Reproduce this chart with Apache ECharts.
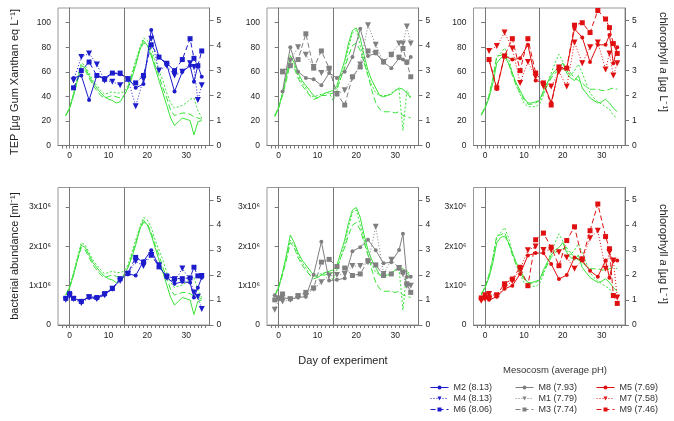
<!DOCTYPE html>
<html>
<head>
    <meta charset="utf-8">
    <title>Mesocosm TEP, bacteria and chlorophyll</title>
    <script src="https://cdn.jsdelivr.net/npm/echarts@6/dist/echarts.min.js"></script>
</head>
<body style="margin:0">
    <div id="main" style="width:674px; height:421px;"></div>

    <script type="text/javascript">

        // sampling days
        var tepDays = [1, 3, 5, 7, 9, 11, 13, 15, 17, 19, 21, 23, 25, 27, 29, 31, 32, 33, 34];
        var bacDays = [-1, 0, 1, 3, 5, 7, 9, 11, 13, 15, 17, 19, 21, 23, 25, 27, 29, 31, 32, 33, 34];
        var chlDays = [-1, 0, 1, 2, 3, 4, 5, 6, 7, 8, 9, 10, 11, 12, 13, 14, 15, 16, 17,
                       18, 19, 20, 21, 22, 23, 24, 25, 26, 27, 28, 29, 30, 31, 32, 33, 34];

        // TEP [ug Gum Xanthan eq L-1]
        var tepM2 = [55, 57, 37, 57, 55, 59, 58, 55, 47, 50, 94, 72, 66, 44, 60, 65, 52, 65, 56];
        var tepM4 = [53, 72, 75, 66, 53, 52, 49, 54, 32, 54, 87, 61, 65, 57, 60, 67, 64, 37, 49];
        var tepM6 = [47, 61, 68, 57, 54, 59, 59, 54, 51, 57, 82, 72, 67, 61, 70, 87, 71, 65, 77];
        var tepM8 = [44, 80, 60, 55, 54, 49, 59, 55, 60, 72, 95, 73, 75, 68, 63, 71, 70, 67, 72];
        var tepM1 = [60, 69, 80, 74, 64, 59, 62, 42, 45, 55, 66, 98, 82, 68, 74, 83, 83, 97, 83];
        var tepM3 = [60, 65, 70, 91, 63, 77, 63, 42, 33, 56, 64, 77, 76, 68, 74, 72, 79, 68, 56];
        var tepM5 = [70, 46, 73, 70, 71, 82, 53, 51, 35, 62, 63, 95, 88, 68, 82, 82, 90, 67, 80];
        var tepM7 = [77, 81, 92, 79, 51, 68, 56, 48, 48, 60, 48, 84, 67, 80, 84, 62, 75, 57, 67];
        var tepM9 = [70, 47, 73, 87, 61, 87, 59, 51, 33, 64, 63, 98, 100, 92, 110, 103, 96, 83, 75];

        // bacterial abundance [x10^6 ml-1]
        var bacM2 = [0.66, 0.79, 0.68, 0.62, 0.70, 0.68, 0.77, 0.93, 1.15, 1.30, 1.26, 1.62, 1.90, 1.50, 1.21, 1.05, 1.10, 1.08, 0.70, 0.95, 1.20];
        var bacM4 = [0.64, 0.74, 0.66, 0.56, 0.70, 0.66, 0.76, 0.92, 1.12, 1.30, 1.62, 1.50, 1.78, 1.52, 1.20, 1.10, 1.44, 1.15, 0.83, 0.72, 0.41];
        var bacM6 = [0.68, 0.80, 0.68, 0.60, 0.72, 0.70, 0.80, 0.93, 1.18, 1.32, 1.72, 1.60, 1.78, 1.48, 1.25, 1.18, 1.18, 1.20, 1.47, 1.25, 1.26];
        var bacM8 = [0.76, 0.70, 0.70, 0.66, 0.70, 0.72, 1.28, 2.12, 1.13, 1.15, 1.19, 1.88, 1.98, 2.17, 1.90, 1.57, 1.60, 1.91, 2.32, 1.22, 1.23];
        var bacM1 = [0.39, 0.64, 0.60, 0.64, 0.72, 0.74, 0.92, 1.09, 1.26, 1.27, 1.30, 1.50, 1.50, 1.60, 2.50, 1.30, 1.66, 1.45, 1.30, 1.00, 1.00];
        var bacM3 = [0.64, 0.69, 0.79, 0.67, 0.75, 0.83, 0.94, 1.60, 1.67, 1.49, 1.45, 1.26, 1.30, 1.64, 1.53, 1.26, 1.30, 1.45, 1.35, 1.05, 0.83];
        var bacM5 = [0.66, 0.70, 0.64, 0.72, 0.92, 1.00, 1.30, 1.77, 1.83, 1.83, 1.55, 1.17, 1.27, 1.72, 1.64, 1.38, 1.23, 1.64, 1.20, 1.64, 1.64];
        var bacM7 = [0.62, 0.66, 0.79, 0.74, 0.95, 1.12, 1.42, 1.90, 2.00, 1.91, 1.90, 1.85, 1.72, 1.43, 1.66, 2.21, 2.40, 1.43, 1.85, 1.64, 0.70];
        var bacM9 = [0.69, 0.77, 0.70, 0.77, 1.05, 1.17, 1.47, 1.00, 2.17, 2.34, 1.98, 1.51, 2.15, 2.50, 1.68, 2.40, 3.08, 2.25, 1.94, 0.75, 0.55];

        // chlorophyll a [ug L-1]
        var chlM2 = [1.2, 1.5, 2.0, 2.6, 3.2, 3.1, 2.8, 2.5, 2.3, 2.1, 1.95, 1.85, 1.8, 1.7, 1.75, 2.0, 2.3, 2.7, 3.2, 3.8, 4.2, 4.0, 3.6, 3.1, 2.6, 2.1, 1.6, 1.1, 0.8, 0.95, 1.1, 1.05, 1.0, 0.42, 0.95, 1.0];
        var chlM4 = [1.2, 1.55, 2.1, 2.7, 3.3, 3.2, 2.9, 2.6, 2.4, 2.2, 2.05, 2.1, 2.15, 2.1, 2.1, 2.15, 2.4, 2.9, 3.4, 3.9, 4.3, 4.2, 3.9, 3.4, 3.0, 2.6, 2.1, 1.7, 1.5, 1.55, 1.6, 1.7, 1.85, 1.9, 1.4, 1.1];
        var chlM6 = [1.2, 1.5, 2.0, 2.6, 3.1, 3.0, 2.7, 2.4, 2.2, 2.0, 1.9, 1.95, 2.0, 1.95, 1.9, 2.0, 2.3, 2.8, 3.3, 3.8, 4.1, 4.05, 3.7, 3.2, 2.8, 2.3, 1.9, 1.4, 1.2, 1.25, 1.3, 1.3, 1.25, 1.15, 1.1, 1.05];
        var chlM8 = [1.2, 1.5, 2.1, 2.8, 3.6, 3.3, 2.9, 2.6, 2.4, 2.2, 2.0, 1.9, 2.0, 2.1, 2.15, 2.2, 2.4, 2.9, 3.4, 4.1, 4.6, 4.7, 4.3, 3.6, 3.0, 2.6, 2.3, 2.0, 1.95, 2.0, 2.05, 2.2, 2.3, 2.25, 2.1, 1.9];
        var chlM1 = [1.2, 1.55, 2.1, 2.7, 3.4, 3.2, 2.8, 2.5, 2.3, 2.0, 1.95, 2.0, 2.05, 2.1, 2.1, 1.8, 2.2, 2.7, 3.2, 3.9, 4.5, 4.6, 4.0, 3.4, 2.8, 2.4, 2.1, 2.0, 2.0, 2.0, 2.1, 2.2, 2.25, 0.6, 2.2, 1.95];
        var chlM3 = [1.15, 1.5, 2.0, 2.6, 3.3, 3.1, 2.7, 2.4, 2.2, 2.0, 1.85, 1.9, 2.0, 2.0, 2.05, 2.1, 2.3, 2.7, 3.1, 3.6, 4.0, 4.1, 3.8, 3.3, 2.8, 2.2, 1.7, 1.45, 1.35, 1.35, 1.35, 1.3, 1.35, 1.2, 1.15, 1.1];
        var chlM5 = [1.25, 1.5, 1.9, 2.5, 3.3, 3.5, 3.55, 3.3, 2.9, 2.5, 2.2, 1.9, 1.7, 1.7, 1.75, 1.8, 2.2, 2.5, 2.8, 3.0, 3.1, 3.3, 2.9, 2.7, 2.6, 2.8, 2.3, 2.1, 1.9, 1.8, 1.7, 1.75, 1.85, 1.7, 1.5, 1.35];
        var chlM7 = [1.25, 1.55, 2.0, 2.7, 3.5, 3.7, 3.9, 3.5, 2.9, 2.4, 2.05, 1.7, 1.55, 1.55, 1.55, 1.65, 2.0, 2.5, 2.9, 3.3, 3.65, 3.35, 3.0, 2.8, 3.0, 3.25, 2.9, 2.5, 2.1, 1.9, 1.75, 1.65, 1.55, 1.45, 1.2, 1.1];
        var chlM9 = [1.2, 1.5, 2.0, 2.7, 3.6, 3.6, 3.7, 3.3, 2.8, 2.4, 2.1, 1.85, 1.65, 1.65, 1.7, 1.8, 2.1, 2.4, 2.7, 2.9, 3.0, 3.05, 3.1, 2.9, 2.7, 2.6, 2.5, 2.35, 2.25, 2.25, 2.25, 2.2, 2.2, 2.25, 2.3, 2.25];

        var columns = [
            {color: '#1c1ccc', names: ['M2 (8.13)', 'M4 (8.13)', 'M6 (8.06)'],
             tep: [tepM2, tepM4, tepM6], bac: [bacM2, bacM4, bacM6], chl: [chlM2, chlM4, chlM6]},
            {color: '#808080', names: ['M8 (7.93)', 'M1 (7.79)', 'M3 (7.74)'],
             tep: [tepM8, tepM1, tepM3], bac: [bacM8, bacM1, bacM3], chl: [chlM8, chlM1, chlM3]},
            {color: '#e01010', names: ['M5 (7.69)', 'M7 (7.58)', 'M9 (7.46)'],
             tep: [tepM5, tepM7, tepM9], bac: [bacM5, bacM7, bacM9], chl: [chlM5, chlM7, chlM9]}
        ];

        var font = 'Liberation Sans, Arial, sans-serif';
        var green = '#3ae23a';
        var lineTypes = ['solid', [1, 2], [5, 3]];
        var chlTypes = ['solid', [2, 2], [6, 3]];
        var symbols = ['circle', 'triangle', 'rect'];
        var symbolSizes = [4, 6, 5];
        var symbolRot = [0, 180, 0];

        var gridLeft = [58, 267, 473.5];
        var gridTop = [8, 187.5];

        var dayTicks = [];
        for (var t = -2; t <= 35; t++) dayTicks.push(t);

        function pairs(days, vals) {
            return days.map(function(d, i) { return [d, vals[i]]; });
        }

        function bacLabel(v) {
            return v === 0 ? '0' : v + 'x10\u2076';
        }

        var grid = [], xAxis = [], yAxis = [], series = [];

        [0, 1].forEach(function(row) {
            columns.forEach(function(col, c) {
                var g = grid.length;
                grid.push({left: gridLeft[c], top: gridTop[row], width: 151.5, height: 137.5,
                           show: true, borderColor: '#999', borderWidth: 1, backgroundColor: 'transparent'});
                xAxis.push({
                    type: 'value', gridIndex: g, min: -3, max: 36,
                    axisLine: {lineStyle: {color: '#777'}},
                    axisTick: {customValues: dayTicks, length: 3, lineStyle: {color: '#777'}},
                    axisLabel: {customValues: [0, 10, 20, 30], fontSize: 8.5, margin: 6,
                                color: '#222', fontFamily: font},
                    splitLine: {show: false}
                });
                // left axis: TEP or bacteria
                yAxis.push({
                    type: 'value', gridIndex: g, position: 'left', min: 0,
                    max: row === 0 ? 112 : 3.5,
                    axisLine: {show: true, lineStyle: {color: '#777'}},
                    axisTick: {customValues: row === 0 ? [0, 20, 40, 60, 80, 100] : [0, 1, 2, 3],
                               length: 4, lineStyle: {color: '#777'}},
                    axisLabel: {customValues: row === 0 ? [0, 20, 40, 60, 80, 100] : [0, 1, 2, 3],
                                formatter: row === 0 ? '{value}' : bacLabel,
                                fontSize: 8.5, margin: 7, color: '#222', fontFamily: font},
                    splitLine: {show: false}
                });
                // right axis: chlorophyll
                yAxis.push({
                    type: 'value', gridIndex: g, position: 'right', min: 0, max: 5.5,
                    axisLine: {show: true, lineStyle: {color: '#777'}},
                    axisTick: {customValues: [0, 1, 2, 3, 4, 5], length: 4, lineStyle: {color: '#777'}},
                    axisLabel: {customValues: [0, 1, 2, 3, 4, 5], fontSize: 8.5, margin: 7,
                                color: '#222', fontFamily: font},
                    splitLine: {show: false}
                });

                // chlorophyll lines in green
                col.chl.forEach(function(vals, k) {
                    var s = {
                        name: 'chl ' + col.names[k], type: 'line', xAxisIndex: g, yAxisIndex: 2 * g + 1,
                        data: pairs(chlDays, vals), showSymbol: false, symbol: 'none', z: 2,
                        lineStyle: {color: green, width: 1, type: chlTypes[k]}
                    };
                    if (k === 0) {
                        s.markLine = {silent: true, symbol: 'none', label: {show: false},
                                      lineStyle: {color: '#777', width: 1, type: 'solid'},
                                      data: [{xAxis: 14}]};
                    }
                    series.push(s);
                });

                // TEP / bacteria series
                var sets = row === 0 ? col.tep : col.bac;
                var days = row === 0 ? tepDays : bacDays;
                sets.forEach(function(vals, k) {
                    series.push({
                        name: col.names[k], type: 'line', xAxisIndex: g, yAxisIndex: 2 * g,
                        data: pairs(days, vals), z: 3,
                        symbol: symbols[k], symbolSize: symbolSizes[k], symbolRotate: symbolRot[k],
                        itemStyle: {color: col.color},
                        lineStyle: {color: col.color, width: 1, type: lineTypes[k]}
                    });
                });
            });
        });

        var legendLeft = [430, 515, 596];
        var legend = columns.map(function(col, c) {
            return {
                data: col.names, orient: 'vertical', left: legendLeft[c], top: 383,
                padding: 0, itemWidth: 18, itemHeight: 5, itemGap: 2, selectedMode: false,
                lineStyle: {width: 1},
                textStyle: {fontSize: 9, lineHeight: 9, color: '#333', fontFamily: font}
            };
        });

        var titleStyle = {fontSize: 11, fill: '#222', fontFamily: font,
                          textAlign: 'center', textVerticalAlign: 'middle'};
        var chlRich = {
            n: {fontSize: 11, fontFamily: font, color: '#222'},
            i: {fontSize: 11, fontFamily: font, color: '#222', fontStyle: 'italic'}
        };

        var myChart = echarts.init(document.getElementById('main'), null, {renderer: 'canvas'});
        myChart.setOption({
            animation: false,
            backgroundColor: '#fff',
            grid: grid,
            xAxis: xAxis,
            yAxis: yAxis,
            legend: legend,
            series: series,
            graphic: [
                {type: 'text', x: 15, y: 82, rotation: Math.PI / 2,
                 style: Object.assign({text: 'TEP [\u00b5g Gum Xanthan eq L\u207b\u00b9]'}, titleStyle)},
                {type: 'text', x: 15, y: 256, rotation: Math.PI / 2,
                 style: Object.assign({text: 'bacterial abundance [ml\u207b\u00b9]'}, titleStyle)},
                {type: 'text', x: 663, y: 62, rotation: -Math.PI / 2,
                 style: Object.assign({}, titleStyle, {text: '{n|chlorophyll }{i|a}{n| [\u00b5g L\u207b\u00b9]}', rich: chlRich})},
                {type: 'text', x: 663, y: 254, rotation: -Math.PI / 2,
                 style: Object.assign({}, titleStyle, {text: '{n|chlorophyll }{i|a}{n| [\u00b5g L\u207b\u00b9]}', rich: chlRich})},
                {type: 'text', x: 343, y: 361,
                 style: Object.assign({text: 'Day of experiment'}, titleStyle)},
                {type: 'text', x: 555, y: 370,
                 style: Object.assign({}, titleStyle, {text: 'Mesocosm (average pH)', fontSize: 9.5, fill: '#333'})}
            ]
        });
    </script>
</body>
</html>
